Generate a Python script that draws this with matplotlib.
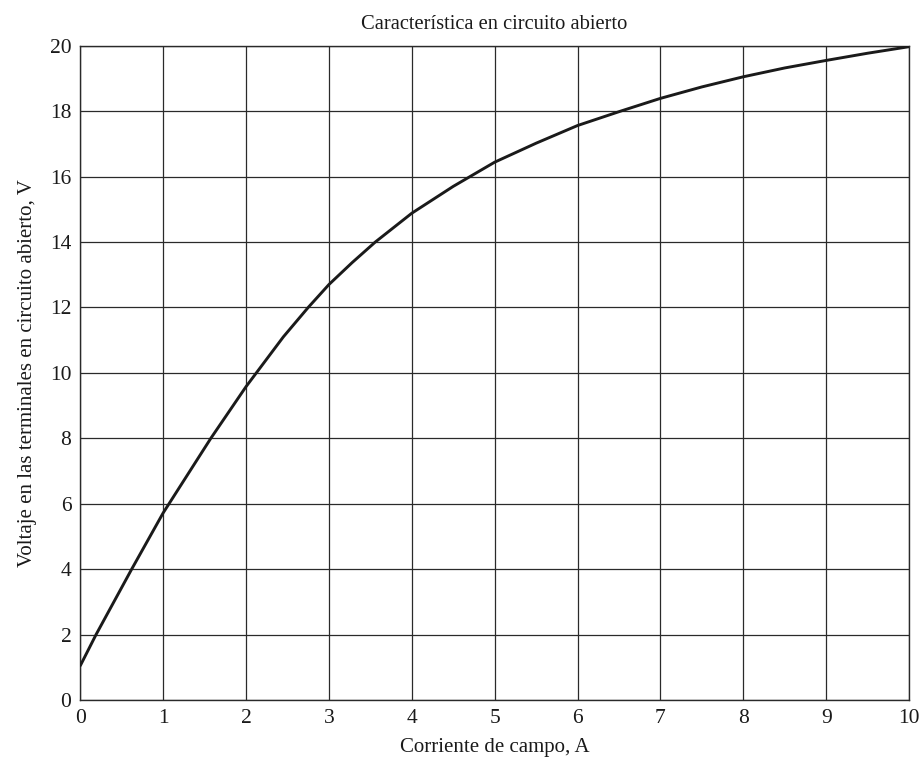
import matplotlib
matplotlib.use("Agg")
import matplotlib.pyplot as plt

# Data
field_current = [0.0, 0.19, 0.62, 1.0, 1.575, 2.0, 2.45, 2.75, 3.0, 3.28, 3.56,
                 4.0, 4.5, 5.0, 5.5, 6.0, 6.52, 7.0, 7.5, 8.0, 8.5, 9.0, 9.5, 10.0]
terminal_voltage = [1.05, 2.0, 4.0, 5.72, 8.0, 9.58, 11.1, 12.0, 12.7, 13.37, 14.0,
                    14.88, 15.7, 16.44, 17.02, 17.56, 18.0, 18.39, 18.74, 19.05,
                    19.32, 19.55, 19.77, 19.97]
x_ticks = list(range(0, 11))
y_ticks = list(range(0, 21, 2))

title = "Característica en circuito abierto"
xlabel = "Corriente de campo, A"
ylabel = "Voltaje en las terminales en circuito abierto, V"

plt.rcParams['font.family'] = ['Liberation Serif', 'DejaVu Serif']

fig = plt.figure(figsize=(9.21, 7.58), dpi=100)
ax = fig.add_axes([0.0872, 0.0765, 0.987 - 0.0872, 0.9397 - 0.0765])

ax.plot(field_current, terminal_voltage, color='#1a1a1a', linewidth=2.1,
        solid_capstyle='round', solid_joinstyle='round', zorder=3)

ax.set_xlim(0, 10)
ax.set_ylim(0, 20)
ax.set_xticks(x_ticks)
ax.set_yticks(y_ticks)
ax.grid(True, color='#2a2a2a', linewidth=0.9)
ax.tick_params(length=0, labelsize=15.5, pad=6.5, colors='#1a1a1a')
for s in ax.spines.values():
    s.set_color('#2a2a2a')
    s.set_linewidth(1.0)

ax.set_title(title, fontsize=14.8, pad=12, color='#1a1a1a')
ax.set_xlabel(xlabel, fontsize=15, labelpad=7, color='#1a1a1a')
ax.set_ylabel(ylabel, fontsize=15, labelpad=9, color='#1a1a1a')

fig.savefig("out.png", dpi=100)
